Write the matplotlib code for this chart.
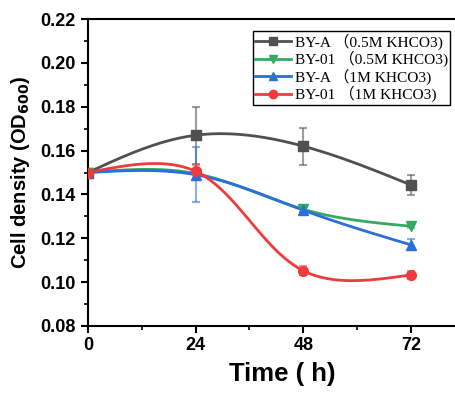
import numpy as np
import matplotlib
matplotlib.use("Agg")
import matplotlib.pyplot as plt
from matplotlib.ticker import MultipleLocator

time = [0, 24, 48, 72]
labels = ["BY-A \uff080.5M KHCO3)", "BY-01 \uff080.5M KHCO3)",
          "BY-A \uff081M KHCO3)", "BY-01 \uff081M KHCO3)"]
by_a_05 = [0.150, 0.167, 0.162, 0.1443]
by_a_05_err = [0.0, 0.013, 0.0085, 0.0045]
by_01_05 = [0.150, 0.1495, 0.1332, 0.1255]
by_01_05_err = [0.0, 0.002, 0.001, 0.001]
by_a_1 = [0.150, 0.149, 0.1328, 0.117]
by_a_1_err = [0.0, 0.0125, 0.001, 0.0025]
by_01_1 = [0.150, 0.1505, 0.1052, 0.1033]
by_01_1_err = [0.0, 0.003, 0.002, 0.002]

series = [
    (by_a_05, by_a_05_err, "#505050", "s"),
    (by_01_05, by_01_05_err, "#35a862", "v"),
    (by_a_1, by_a_1_err, "#2a6fdc", "^"),
    (by_01_1, by_01_1_err, "#ee3b3b", "o"),
]


def natural_coeffs(t, y):
    k = len(t)
    h = np.diff(t)
    A = np.zeros((k, k))
    b = np.zeros(k)
    A[0, 0] = 1
    A[-1, -1] = 1
    for i in range(1, k - 1):
        A[i, i - 1] = h[i - 1]
        A[i, i] = 2 * (h[i - 1] + h[i])
        A[i, i + 1] = h[i]
        b[i] = 6 * ((y[i + 1] - y[i]) / h[i] - (y[i] - y[i - 1]) / h[i - 1])
    return np.linalg.solve(A, b)


def eval_spline(t, y, M, ts):
    h = np.diff(t)
    out = np.empty_like(ts)
    for j, tv in enumerate(ts):
        i = min(max(np.searchsorted(t, tv, side="right") - 1, 0), len(t) - 2)
        t1 = t[i + 1] - tv
        t0 = tv - t[i]
        out[j] = (M[i] * t1 ** 3 / (6 * h[i]) + M[i + 1] * t0 ** 3 / (6 * h[i])
                  + (y[i] / h[i] - M[i] * h[i] / 6) * t1
                  + (y[i + 1] / h[i] - M[i + 1] * h[i] / 6) * t0)
    return out


def parametric_spline(x, y, sx, sy, n=300):
    # chord-length parametric natural spline in display-proportional units
    x = np.asarray(x, float)
    y = np.asarray(y, float)
    px, py = x * sx, y * sy
    d = np.hypot(np.diff(px), np.diff(py))
    t = np.concatenate([[0], np.cumsum(d)])
    Mx = natural_coeffs(t, px)
    My = natural_coeffs(t, py)
    ts = np.linspace(0, t[-1], n)
    return eval_spline(t, px, Mx, ts) / sx, eval_spline(t, py, My, ts) / sy


fig = plt.figure(figsize=(4.56, 3.94), dpi=100)
ax_right_px = 476
ax = fig.add_axes([88 / 456, 68 / 394, (ax_right_px - 88) / 456, (326 - 19) / 394])

sx = 323.0 / 72
sy = 307.0 / 0.14

handles = []
for (vals, errs, col, mk), lab in zip(series, labels):
    xs, ys = parametric_spline(time, vals, sx, sy)
    ax.plot(xs, ys, color=col, lw=2.0, zorder=3)
    ax.errorbar(time, vals, yerr=errs, fmt="none", ecolor=col, alpha=0.55,
                elinewidth=1.5, capsize=3, capthick=1.5, zorder=2)
    ax.plot(time, vals, linestyle="none", marker=mk, color=col, ms=7, zorder=4)
    h, = ax.plot([], [], color=col, lw=2.0, marker=mk, ms=6, label=lab)
    handles.append(h)

ax.set_xlim(0, (ax_right_px - 88) / sx)
ax.set_ylim(0.08, 0.22)
ax.set_xticks(time)
ax.set_xticklabels([str(t) for t in time])
yt = np.round(np.arange(0.08, 0.2201, 0.02), 2)
ax.set_yticks(yt)
ax.set_yticklabels(["%.2f" % v for v in yt])
ax.xaxis.set_minor_locator(MultipleLocator(12))
ax.yaxis.set_minor_locator(MultipleLocator(0.01))
ax.tick_params(which="major", direction="out", length=5, width=1.5)
ax.tick_params(which="minor", direction="out", length=3, width=1.2)
ax.tick_params(axis="x", pad=3)
ax.tick_params(axis="y", pad=4)
for lab in ax.get_xticklabels() + ax.get_yticklabels():
    lab.set_fontfamily("Liberation Sans")
    lab.set_fontweight("bold")
    lab.set_fontsize(13)
ax.spines["right"].set_visible(False)
for s in ["left", "bottom", "top"]:
    ax.spines[s].set_linewidth(1.5)

ax.set_xlabel("Time ( h)", fontfamily="Liberation Sans", fontweight="bold",
              fontsize=18.5, labelpad=6)
ax.set_ylabel(r"Cell density (OD$_{\mathbf{600}}$)", fontfamily="Liberation Sans",
              fontweight="bold", fontsize=14.5, labelpad=6)

leg = ax.legend(handles=handles, loc="upper left",
                bbox_to_anchor=((253 - 88) / (ax_right_px - 88), (326 - 31) / 307),
                prop={"family": ["Liberation Serif", "Noto Sans CJK SC"], "size": 11.1},
                frameon=True, fancybox=False, edgecolor="black", framealpha=1,
                borderpad=0.15, labelspacing=0.08, handlelength=2.3,
                handletextpad=0.25, borderaxespad=0)
leg.get_frame().set_linewidth(1.0)

fig.savefig("out.png", dpi=100)
